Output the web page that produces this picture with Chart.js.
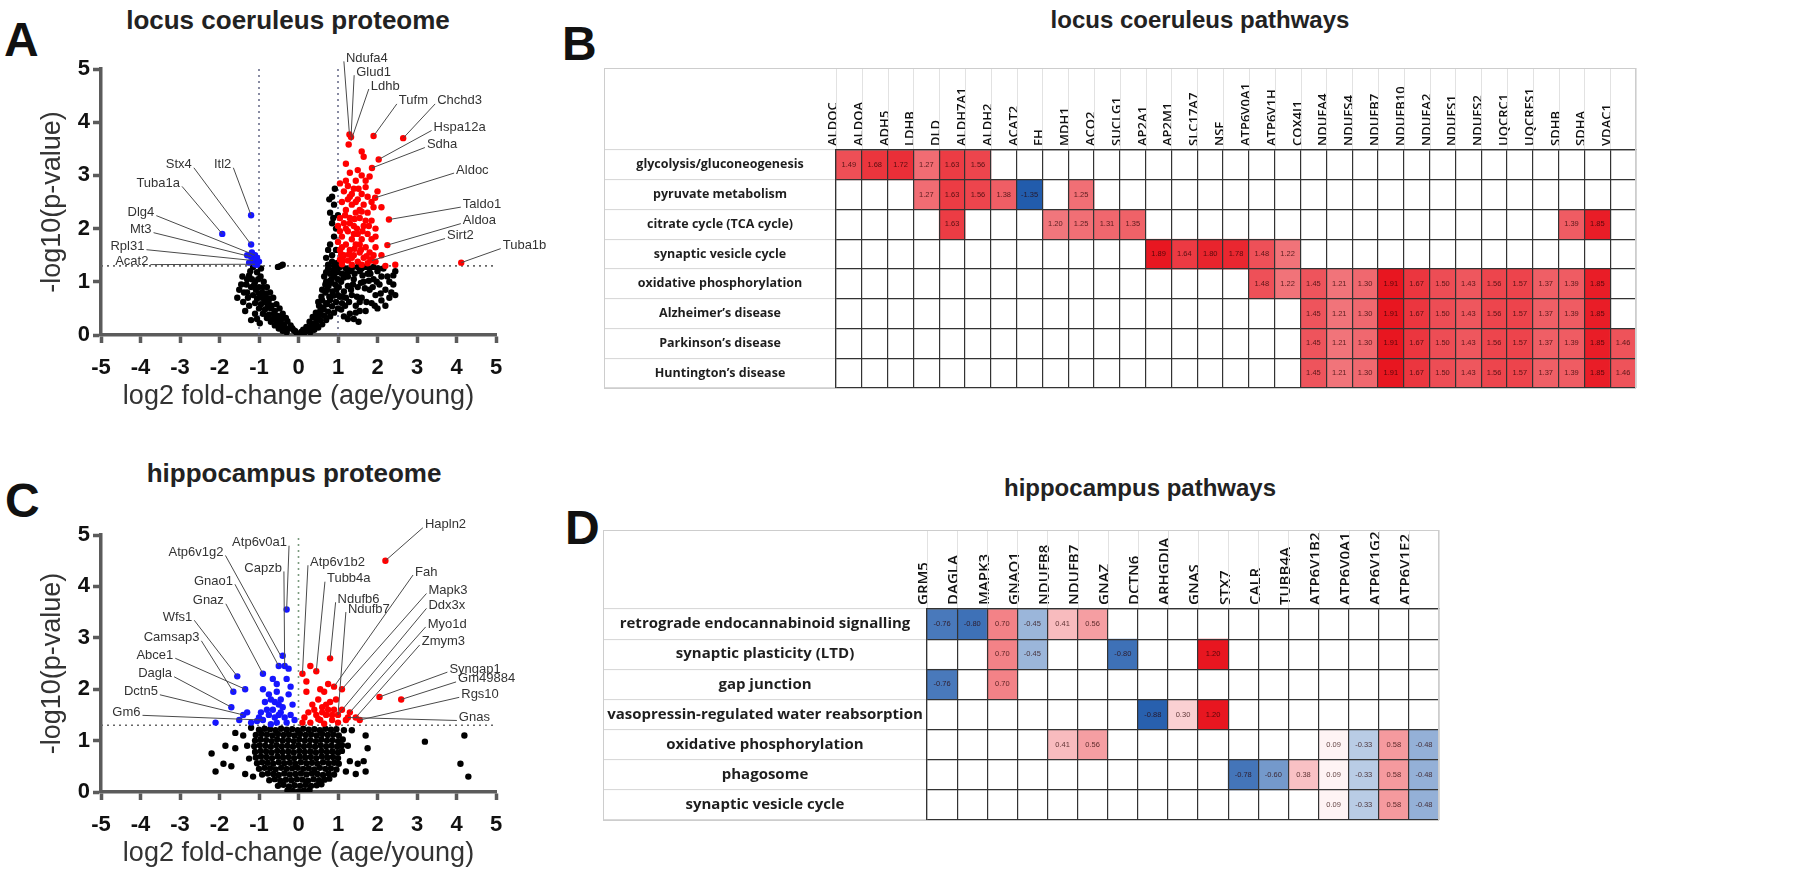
<!DOCTYPE html>
<html>
<head>
<meta charset="utf-8">
<script src="https://cdn.jsdelivr.net/npm/chart.js@4.4.1/dist/chart.umd.min.js"></script>
<style>
  body { margin: 0; width: 1800px; height: 884px; overflow: hidden; background: #fff; }
  .plot { position: absolute; }
  .letter { position: absolute; font: bold 48px "Liberation Sans", Arial, sans-serif; line-height: 1; color: #111; }
  .title { position: absolute; font: bold 24px "Liberation Sans", Arial, sans-serif; line-height: 28px; color: #222; transform: translateX(-50%); white-space: nowrap; }
  .big { font-size: 26px; line-height: 30px; }
</style>
</head>
<body>
<div class="letter" style="left:4px;top:16px">A</div>
<div class="title big" style="left:288px;top:5px">locus coeruleus proteome</div>
<div class="plot" style="left:0;top:28px;width:560px;height:407px"><canvas id="lcVolcano"></canvas></div>

<div class="letter" style="left:562px;top:20px">B</div>
<div class="title" style="left:1200px;top:6px">locus coeruleus pathways</div>
<div class="plot" style="left:560px;top:40px;width:1240px;height:370px"><canvas id="lcPathways"></canvas></div>

<div class="letter" style="left:5px;top:477px">C</div>
<div class="title big" style="left:294px;top:458px">hippocampus proteome</div>
<div class="plot" style="left:0;top:493px;width:560px;height:399px"><canvas id="hcVolcano"></canvas></div>

<div class="letter" style="left:565px;top:504px">D</div>
<div class="title" style="left:1140px;top:474px">hippocampus pathways</div>
<div class="plot" style="left:560px;top:500px;width:940px;height:340px"><canvas id="hcPathways"></canvas></div>

<script>
// ---- locus coeruleus volcano: [log2 fold-change, -log10 p] ----
const lcUp = [
  [1.29,3.77],[1.33,3.72],[1.27,3.58],[1.9,3.74],[2.65,3.7],[2.03,3.3],[1.86,3.14],[1.94,2.58],
  [2.29,2.17],[2.25,1.69],[1.86,1.4],[4.12,1.36],[1.6,3.45],[1.65,3.35],[1.2,3.22],[1.5,3.1],
  [1.6,3.0],[1.8,2.98],[1.2,2.9],[1.7,2.9],[1.05,2.85],[1.25,2.8],[1.4,2.75],[1.3,2.6],[1.5,2.55],
  [1.1,2.5],[1.35,2.45],[1.65,2.45],[1.9,2.4],[2.1,2.4],[1.2,2.35],[1.45,2.3],[1.75,2.3],[1.05,2.2],
  [1.3,2.2],[1.55,2.2],[1.85,2.15],[1.15,2.1],[1.4,2.05],[1.65,2.05],[1.95,2.0],[1.05,1.95],
  [1.25,1.95],[1.5,1.9],[1.75,1.9],[1.1,1.85],[1.35,1.8],[1.6,1.8],[1.85,1.8],[1.2,1.7],[1.45,1.7],
  [1.7,1.65],[1.95,1.65],[1.05,1.6],[1.3,1.6],[1.55,1.55],[1.8,1.55],[1.15,1.5],[1.4,1.5],
  [1.65,1.45],[1.9,1.5],[1.05,1.42],[1.25,1.4],[1.5,1.38],[1.75,1.35],[1.95,1.38],[1.1,1.33],
  [1.35,1.32],[1.6,1.32],[2.2,1.3],[2.45,1.32],[1.0,1.75],[1.0,2.05],[1.2,2.0],[1.45,2.5],
  [1.6,2.65],[1.35,1.45],[1.55,1.7],[1.7,2.15],[1.1,1.65],[1.4,1.9],[1.25,2.55],[1.55,2.35],
  [1.15,2.7],[1.75,2.6],[1.45,2.9],[1.3,3.05],
  [1.12,1.4],[1.28,1.52],[1.42,1.62],[1.58,1.6],[1.72,1.48],[1.82,1.42],[1.48,2.0],[1.62,1.95],
  [1.78,2.05],[1.3,2.1],[1.18,2.25],[1.42,2.18],[1.6,2.32],[1.85,2.5],[1.35,2.65],[1.52,2.75],
  [1.7,2.78],[2.0,2.7],[1.08,1.52],[1.95,1.85],[2.1,1.5]
];
const lcDown = [
  [-1.2,2.25],[-1.2,1.7],[-1.93,1.9],[-1.1,1.5],[-1.2,1.47],[-1.15,1.4],[-1.05,1.45],[-1.25,1.36],
  [-1.1,1.33],[-1.3,1.5],[-1.0,1.38],[-1.18,1.55],[-1.05,1.32]
];
const lcNs = [
  [0,0.01],[0.04,0.03],[-0.04,0.03],[0.08,0.06],[-0.08,0.07],[0.12,0.1],[-0.12,0.09],[0.16,0.05],
  [-0.16,0.13],[0.2,0.15],[-0.2,0.18],[0.24,0.08],[-0.24,0.12],[0.28,0.25],[-0.28,0.26],[0.32,0.16],
  [-0.32,0.32],[0.36,0.34],[-0.36,0.2],[0.4,0.22],[-0.4,0.4],[0.44,0.42],[-0.44,0.3],[0.48,0.3],
  [-0.48,0.5],[0.52,0.55],[-0.52,0.36],[0.56,0.38],[-0.56,0.58],[0.6,0.65],[-0.6,0.45],[0.64,0.48],
  [-0.64,0.7],[0.68,0.8],[-0.68,0.55],[0.72,0.58],[-0.72,0.8],[0.76,0.92],[-0.76,0.62],[0.8,0.66],
  [-0.8,0.9],[0.84,1.05],[-0.84,0.72],[0.88,0.74],[-0.88,1.0],[0.92,1.2],[-0.92,0.8],[0.96,0.85],
  [-0.96,1.1],[1.0,1.25],[-1.0,0.9],
  [0.3,0.05],[0.4,0.1],[0.5,0.14],[0.6,0.2],[0.7,0.28],[0.8,0.35],[0.9,0.42],[1.0,0.5],[1.1,0.6],
  [1.2,0.7],[0.45,0.2],[0.55,0.28],[0.65,0.36],[0.75,0.44],[0.85,0.54],[0.95,0.62],[1.05,0.72],
  [1.15,0.82],[1.25,0.92],[0.7,1.0],[0.8,1.15],[0.9,1.3],[1.0,1.05],[1.1,1.15],[1.2,1.25],[0.65,1.1],
  [0.75,1.25],
  [-0.3,0.05],[-0.4,0.08],[-0.5,0.12],[-0.6,0.18],[-0.7,0.25],[-0.8,0.32],[-0.9,0.4],[-1.0,0.5],
  [-1.1,0.6],[-0.45,0.15],[-0.55,0.22],[-0.65,0.3],[-0.75,0.38],[-0.85,0.48],[-0.95,0.58],
  [-1.05,0.68],[-1.15,0.75],[-1.2,0.9],[-1.25,0.55],[-1.3,0.8],[-1.35,0.45],[-1.4,0.62],[-1.1,1.0],
  [-1.25,1.12],[-1.05,1.18],[-0.95,1.25],[-1.15,1.28],[-1.45,0.95],[-1.3,1.05],[-1.2,0.28],
  [-0.45,1.3],[-0.52,1.28],[-0.4,1.32],
  [0.85,1.5],[0.8,1.7],[0.9,1.85],[0.75,1.6],[0.95,2.0],[0.85,2.1],[0.8,2.3],[0.9,2.45],[0.85,2.6],
  [0.92,2.75],[0.78,2.55],[1.0,2.25],[0.7,1.45],[0.95,1.6],[0.88,2.2],
  [1.3,0.4],[1.35,0.75],[1.4,1.05],[1.45,0.55],[1.5,0.9],[1.55,1.2],[1.6,0.7],[1.65,1.0],[1.7,0.45],
  [1.75,1.15],[1.8,0.85],[1.85,0.6],[1.9,1.05],[1.95,0.75],[2.0,1.2],[2.05,0.95],[2.1,0.65],
  [2.15,1.25],[2.2,0.85],[2.25,1.1],[2.3,1.0],[2.35,0.8],[2.4,0.95],[2.45,1.2],[2.2,0.55],[2.3,0.7],
  [1.4,0.3],[1.55,0.45],[1.25,1.1],[1.35,1.25],[1.5,1.28],[1.6,1.25],[1.7,1.28],[1.8,1.25],
  [1.9,1.28],[2.1,1.1],[2.0,0.5],[2.4,1.12],[2.45,0.75],
  [0.35,0.12],[0.45,0.32],[0.55,0.45],[0.62,0.52],[0.7,0.6],[0.78,0.72],[0.86,0.82],[0.93,0.95],
  [1.02,0.9],[1.08,1.0],[1.15,1.08],[1.22,1.15],[1.3,1.2],[0.6,0.85],[0.68,0.95],[0.82,0.98],
  [0.9,1.1],[0.98,1.18],[1.05,1.28],[1.12,0.72],[1.18,0.55],[1.28,0.62],[1.33,0.85],[1.38,0.95],
  [1.42,1.15],[1.48,0.72],[1.55,0.62],[1.58,0.98],[1.62,1.12],[1.68,0.88],[1.72,0.62],[1.78,1.02],
  [1.82,1.15],[1.88,0.9],[1.93,0.55],[1.98,1.0],[2.02,1.25],[2.08,0.78],[1.45,0.42],[1.52,0.25],
  [0.5,0.62],[0.58,0.72],[0.72,0.85],[0.8,1.02],[0.88,1.22],[0.96,1.35],[0.85,1.38],[0.75,1.32],
  [0.7,1.18],[1.0,0.75],[1.08,0.48],[1.15,0.35],[1.25,0.3],
  [-0.35,0.12],[-0.45,0.25],[-0.55,0.32],[-0.62,0.4],[-0.7,0.5],[-0.78,0.55],[-0.86,0.62],
  [-0.93,0.7],[-1.0,0.78],[-1.08,0.85],[-1.12,0.95],[-1.18,1.05],[-1.22,1.2],[-1.02,1.05],
  [-0.9,0.9],[-0.82,0.78],[-0.74,0.68],[-1.1,0.4],[-1.28,0.7],[-1.32,0.95],[-1.38,0.8],[-1.42,1.1],
  [-1.5,0.85],[-1.55,0.7],[-1.05,0.3],[-0.98,0.22]
];
// gene, point x, point y, label x, label y (labels right of zero start at x, left of zero end at x)
const lcGeneLabels = [
  ['Ndufa4',1.29,3.77,1.2,5.2],['Glud1',1.33,3.72,1.46,4.94],['Ldhb',1.33,3.65,1.83,4.68],
  ['Tufm',1.9,3.74,2.54,4.4],['Chchd3',2.65,3.7,3.51,4.4],['Hspa12a',2.03,3.3,3.42,3.9],
  ['Sdha',1.86,3.14,3.25,3.58],['Aldoc',1.94,2.58,3.99,3.1],['Taldo1',2.29,2.17,4.16,2.46],
  ['Aldoa',2.25,1.69,4.16,2.15],['Sirt2',1.86,1.4,3.76,1.87],['Tuba1b',4.12,1.36,5.17,1.68],
  ['Stx4',-1.2,1.7,-2.7,3.2],['Itl2',-1.2,2.25,-1.7,3.2],['Tuba1a',-1.93,1.9,-3.0,2.85],
  ['Dlg4',-1.1,1.5,-3.65,2.3],['Mt3',-1.2,1.47,-3.72,1.98],['Rpl31',-1.15,1.4,-3.9,1.66],
  ['Acat2',-1.1,1.33,-3.8,1.38]
];
const lcCutX = [-1, 1];

// ---- hippocampus volcano ----
const hcUp = [
  [2.2,4.5],[2.05,1.85],[2.6,1.8],[0.8,2.6],[0.3,2.45],[0.45,2.35],[0.1,2.3],[0.2,2.15],[0.9,2.05],
  [0.75,2.1],[1.1,2.0],[0.65,1.95],[0.5,1.8],[0.8,1.75],[0.35,1.7],[0.6,1.65],[0.9,1.6],[0.25,1.55],
  [0.45,1.5],[0.7,1.5],[1.0,1.5],[1.3,1.55],[1.45,1.45],[0.15,1.45],[0.55,1.4],[0.85,1.4],[1.2,1.4],
  [0.3,1.35],[0.65,1.33],[1.0,1.35],[0.4,1.6],[0.75,1.6],[0.2,1.95],[0.55,2.0],[0.95,1.8],
  [1.25,1.45],[1.55,1.4],[0.1,1.35],[0.6,1.55],[0.85,1.5],[0.7,1.7],[1.1,1.6],[0.5,1.42]
];
const hcDown = [
  [-0.3,3.55],[-0.4,2.65],[-0.35,2.45],[-0.5,2.45],[-0.25,2.4],[-0.9,2.3],[-1.55,2.25],[-0.3,2.2],
  [-0.2,2.05],[-1.65,1.95],[-1.35,2.0],[-0.9,2.0],[-0.55,1.95],[-1.7,1.65],[-0.7,1.8],[-0.6,1.75],
  [-0.5,1.7],[-0.8,1.6],[-0.45,1.55],[-1.4,1.5],[-1.3,1.55],[-0.95,1.55],[-0.75,1.5],[-0.6,1.45],
  [-0.35,1.45],[-0.2,1.5],[-2.1,1.35],[-0.9,1.4],[-0.55,1.35],[-0.3,1.35],[-0.7,1.32],[-1.05,1.38],
  [-0.45,1.8],[-0.65,1.6],[-0.85,1.75],[-0.15,1.7],[-0.25,1.9],[-1.0,1.45],[-0.4,1.65],[-0.75,1.9],
  [-0.55,2.1],[-0.1,1.4],[-1.2,1.35],[-1.5,1.4],[-0.65,2.2],[-0.5,1.5]
];
const hcNs = [
  [-0.28,0.03],[-0.14,0.02],[0,0.01],[0.14,0.03],[0.28,0.04],
  [-0.52,0.12],[-0.38,0.14],[-0.24,0.11],[-0.1,0.13],[0.04,0.12],[0.18,0.14],[0.32,0.12],[0.46,0.13],[0.58,0.15],
  [-0.74,0.23],[-0.6,0.25],[-0.46,0.22],[-0.32,0.24],[-0.18,0.23],[-0.04,0.25],[0.1,0.24],[0.24,0.22],
  [0.38,0.25],[0.52,0.23],[0.66,0.24],[0.78,0.26],
  [-0.92,0.34],[-0.78,0.36],[-0.64,0.35],[-0.5,0.33],[-0.36,0.36],[-0.22,0.34],[-0.08,0.35],[0.06,0.36],
  [0.2,0.34],[0.34,0.36],[0.48,0.35],[0.62,0.33],[0.76,0.36],[0.9,0.34],
  [-1.0,0.45],[-0.86,0.47],[-0.72,0.46],[-0.58,0.44],[-0.44,0.47],[-0.3,0.45],[-0.16,0.46],[-0.02,0.47],
  [0.12,0.45],[0.26,0.46],[0.4,0.44],[0.54,0.47],[0.68,0.45],[0.82,0.46],[0.96,0.44],
  [-1.05,0.56],[-0.92,0.58],[-0.78,0.57],[-0.64,0.55],[-0.5,0.58],[-0.36,0.56],[-0.22,0.57],[-0.08,0.55],
  [0.06,0.58],[0.2,0.56],[0.34,0.57],[0.48,0.55],[0.62,0.58],[0.76,0.56],[0.9,0.57],[1.02,0.55],
  [-1.08,0.67],[-0.95,0.69],[-0.81,0.68],[-0.67,0.66],[-0.53,0.69],[-0.39,0.67],[-0.25,0.68],[-0.11,0.66],
  [0.03,0.69],[0.17,0.67],[0.31,0.68],[0.45,0.66],[0.59,0.69],[0.73,0.67],[0.87,0.68],[1.0,0.66],
  [-1.1,0.78],[-0.96,0.8],[-0.82,0.79],[-0.68,0.77],[-0.54,0.8],[-0.4,0.78],[-0.26,0.79],[-0.12,0.77],
  [0.02,0.8],[0.16,0.78],[0.3,0.79],[0.44,0.77],[0.58,0.8],[0.72,0.78],[0.86,0.79],[1.0,0.77],[1.1,0.8],
  [-1.12,0.89],[-0.98,0.91],[-0.84,0.9],[-0.7,0.88],[-0.56,0.91],[-0.42,0.89],[-0.28,0.9],[-0.14,0.88],
  [0,0.91],[0.14,0.89],[0.28,0.9],[0.42,0.88],[0.56,0.91],[0.7,0.89],[0.84,0.9],[0.98,0.88],[1.1,0.91],
  [-1.1,1.0],[-0.96,1.02],[-0.82,1.01],[-0.68,0.99],[-0.54,1.02],[-0.4,1.0],[-0.26,1.01],[-0.12,0.99],
  [0.02,1.02],[0.16,1.0],[0.3,1.01],[0.44,0.99],[0.58,1.02],[0.72,1.0],[0.86,1.01],[1.0,0.99],[1.12,1.02],
  [-1.08,1.11],[-0.94,1.13],[-0.8,1.12],[-0.66,1.1],[-0.52,1.13],[-0.38,1.11],[-0.24,1.12],[-0.1,1.1],
  [0.04,1.13],[0.18,1.11],[0.32,1.12],[0.46,1.1],[0.6,1.13],[0.74,1.11],[0.88,1.12],[1.02,1.1],
  [-1.0,1.21],[-0.86,1.23],[-0.72,1.22],[-0.58,1.2],[-0.44,1.23],[-0.3,1.21],[-0.16,1.22],[-0.02,1.2],
  [0.12,1.23],[0.26,1.21],[0.4,1.22],[0.54,1.2],[0.68,1.23],[0.82,1.21],[0.96,1.22],
  [-2.2,0.75],[-2.1,0.4],[-1.9,0.55],[-1.7,0.5],[-1.85,0.9],[-1.6,1.15],[-1.6,0.85],[-1.35,0.35],
  [-1.3,0.9],[-1.25,0.65],[-1.4,1.1],[-1.2,1.25],[1.25,0.9],[1.3,0.6],[1.45,0.35],[1.5,0.55],
  [1.7,0.4],[1.65,0.6],[1.75,0.85],[1.7,1.1],[1.35,1.2],[1.2,0.4],[3.2,0.98],[4.1,0.55],[4.3,0.3],
  [4.2,1.1],[-1.15,0.3],[1.15,1.2]
];
const hcGeneLabels = [
  ['Atp6v1g2',-0.45,2.65,-1.9,4.66],['Atp6v0a1',-0.3,3.55,-0.29,4.85],['Capzb',-0.35,2.45,-0.42,4.35],
  ['Gnao1',-0.5,2.45,-1.66,4.1],['Gnaz',-0.9,2.3,-1.89,3.72],['Wfs1',-1.55,2.25,-2.69,3.4],
  ['Camsap3',-1.65,1.95,-2.51,3.0],['Abce1',-1.35,2.0,-3.17,2.66],['Dagla',-1.7,1.65,-3.2,2.3],
  ['Dctn5',-1.4,1.5,-3.56,1.95],['Gm6',-0.9,1.4,-4.0,1.55],
  ['Hapln2',2.2,4.5,3.2,5.2],['Atp6v1b2',0.1,2.3,0.29,4.47],['Tubb4a',0.45,2.35,0.72,4.15],
  ['Ndufb6',0.8,2.6,0.99,3.75],['Ndufb7',1.0,1.5,1.25,3.56],['Fah',0.9,2.05,2.95,4.28],
  ['Mapk3',1.1,2.0,3.29,3.92],['Ddx3x',1.0,1.5,3.29,3.63],['Myo1d',1.3,1.55,3.27,3.27],
  ['Zmym3',1.45,1.45,3.12,2.92],['Syngap1',2.05,1.85,3.82,2.39],['Gm49884',2.6,1.8,4.04,2.2],
  ['Rgs10',1.55,1.4,4.12,1.9],['Gnas',1.25,1.45,4.06,1.45]
];
const hcCutX = [0];
const pCut = 1.3;

// ---- locus coeruleus pathways ----
const lcGenes = ['ALDOC','ALDOA','ADH5','LDHB','DLD','ALDH7A1','ALDH2','ACAT2','FH','MDH1','ACO2',
  'SUCLG1','AP2A1','AP2M1','SLC17A7','NSF','ATP6V0A1','ATP6V1H','COX4I1','NDUFA4','NDUFS4','NDUFB7',
  'NDUFB10','NDUFA2','NDUFS1','NDUFS2','UQCRC1','UQCRFS1','SDHB','SDHA','VDAC1'];
const lcFold = [1.49,1.68,1.72,1.27,1.63,1.56,1.38,-1.35,1.2,1.25,1.31,1.35,1.89,1.64,1.8,1.78,1.48,
  1.22,1.45,1.21,1.3,1.91,1.67,1.5,1.43,1.56,1.57,1.37,1.39,1.85,1.46];
const lcPathwayNames = ['glycolysis/gluconeogenesis','pyruvate metabolism','citrate cycle (TCA cycle)',
  'synaptic vesicle cycle','oxidative phosphorylation','Alzheimer\u2019s disease','Parkinson\u2019s disease',
  'Huntington\u2019s disease'];
const lcMembers = [
  [0,1,2,3,4,5],
  [3,4,5,6,7,9],
  [4,8,9,10,11,28,29],
  [12,13,14,15,16,17],
  [16,17,18,19,20,21,22,23,24,25,26,27,28,29],
  [18,19,20,21,22,23,24,25,26,27,28,29],
  [18,19,20,21,22,23,24,25,26,27,28,29,30],
  [18,19,20,21,22,23,24,25,26,27,28,29,30]
];

// ---- hippocampus pathways ----
const hcGenes = ['GRM5','DAGLA','MAPK3','GNAO1','NDUFB8','NDUFB7','GNAZ','DCTN6','ARHGDIA','GNAS',
  'STX7','CALR','TUBB4A','ATP6V1B2','ATP6V0A1','ATP6V1G2','ATP6V1E2'];
const hcFold = [-0.76,-0.8,0.7,-0.45,0.41,0.56,-0.8,-0.88,0.3,1.2,-0.78,-0.6,0.38,0.09,-0.33,0.58,-0.48];
const hcPathwayNames = ['retrograde endocannabinoid signalling','synaptic plasticity (LTD)','gap junction',
  'vasopressin-regulated water reabsorption','oxidative phosphorylation','phagosome','synaptic vesicle cycle'];
const hcMembers = [
  [0,1,2,3,4,5],
  [2,3,6,9],
  [0,2],
  [7,8,9],
  [4,5,13,14,15,16],
  [10,11,12,13,14,15,16],
  [13,14,15,16]
];

const SANS = '"Liberation Sans", Arial, sans-serif';
const TABLE_FONT = '"Open Sans", "Liberation Sans", sans-serif';
const AXIS = '#5b5b5b';

const geneLabels = {
  id: 'geneLabels',
  afterDatasetsDraw(chart, args, opts) {
    const { ctx, scales: { x, y } } = chart;
    ctx.save();
    ctx.font = '13px ' + SANS;
    ctx.textBaseline = 'middle';
    ctx.strokeStyle = '#4a4a4a';
    ctx.fillStyle = '#333';
    ctx.lineWidth = 1;
    for (const [name, px, py, lx, ly] of opts.items) {
      const x0 = x.getPixelForValue(px), y0 = y.getPixelForValue(py);
      const x1 = x.getPixelForValue(lx), y1 = y.getPixelForValue(ly);
      const right = lx > 0;
      ctx.beginPath();
      ctx.moveTo(x0, y0);
      ctx.lineTo(x1 + (right ? -2 : 2), y1 + 3);
      ctx.stroke();
      ctx.textAlign = right ? 'left' : 'right';
      ctx.fillText(name, x1, y1);
    }
    ctx.restore();
  }
};

function volcano(id, up, down, ns, items, cutX, cutColor, top) {
  const dots = (list, color) => ({
    data: list.map(([x, y]) => ({ x, y })),
    backgroundColor: color, borderWidth: 0, pointRadius: 3.2, pointHoverRadius: 3.2
  });
  const dashed = (data, color) => ({
    data, showLine: true, pointRadius: 0, borderColor: color, borderWidth: 1.6, borderDash: [2, 4]
  });
  const tickFont = { family: SANS, size: 22, weight: 'bold' };
  const titleFont = { family: SANS, size: 27 };
  new Chart(document.getElementById(id), {
    type: 'scatter',
    data: {
      datasets: [
        dots(up, '#ff0000'),
        dots(down, '#1616ff'),
        dots(ns, '#000000'),
        ...cutX.map(v => dashed([{ x: v, y: 0 }, { x: v, y: 5 }], cutColor)),
        dashed([{ x: -5, y: pCut }, { x: 5, y: pCut }], '#666')
      ]
    },
    plugins: [geneLabels],
    options: {
      responsive: true, maintainAspectRatio: false, animation: false,
      layout: { padding: { left: 0, right: 64, top: top, bottom: 0 } },
      plugins: { legend: { display: false }, tooltip: { enabled: false }, geneLabels: { items } },
      scales: {
        x: {
          type: 'linear', min: -5, max: 5,
          afterFit: s => { s.height = 100; },
          ticks: { stepSize: 1, padding: 12, maxRotation: 0, color: '#111', font: tickFont },
          grid: { drawOnChartArea: false, tickLength: 8, tickWidth: 3.5, tickColor: AXIS },
          border: { color: AXIS, width: 3.5 },
          title: { display: true, text: 'log2 fold-change (age/young)', color: '#333', font: titleFont, padding: { top: 0, bottom: 22 } }
        },
        y: {
          min: 0, max: 5,
          afterFit: s => { s.width = 101; },
          ticks: { stepSize: 1, padding: 3, color: '#111', font: tickFont },
          grid: { drawOnChartArea: false, tickLength: 8, tickWidth: 3.5, tickColor: AXIS },
          border: { color: AXIS, width: 3.5 },
          title: { display: true, text: '-log10(p-value)', color: '#333', font: titleFont, padding: { top: 36, bottom: 0 } }
        }
      }
    }
  });
}

function cellColor(v, redMax, blueMax) {
  const base = v >= 0 ? [232, 22, 32] : [34, 92, 172];
  const t = Math.pow(Math.min(1, Math.abs(v) / (v >= 0 ? redMax : blueMax)), 1.15);
  return 'rgb(' + base.map(c => Math.round(255 + (c - 255) * t)).join(',') + ')';
}

const tableDecor = {
  id: 'tableDecor',
  beforeDatasetsDraw(chart) {
    const { ctx, scales: { x }, chartArea } = chart;
    const n = chart.data.labels.length;
    const w = (x.right - x.left) / n;
    ctx.save();
    ctx.strokeStyle = '#e2e2e2';
    ctx.lineWidth = 1;
    for (let i = 0; i <= n; i++) {
      const px = Math.round(x.left + i * w) + 0.5;
      ctx.beginPath(); ctx.moveTo(px, x.top); ctx.lineTo(px, chartArea.top); ctx.stroke();
    }
    ctx.restore();
  },
  afterDatasetsDraw(chart, args, opts) {
    const { ctx } = chart;
    ctx.save();
    ctx.font = opts.valueSize + 'px ' + SANS;
    ctx.textAlign = 'center';
    ctx.textBaseline = 'middle';
    ctx.fillStyle = 'rgba(40,0,0,0.75)';
    chart.data.datasets.forEach((ds, di) => {
      chart.getDatasetMeta(di).data.forEach((bar, i) => {
        if (!ds.data[i]) return;
        ctx.fillText(opts.values[i].toFixed(2), bar.x, (bar.y + bar.base) / 2);
      });
    });
    ctx.restore();
  },
  afterDraw(chart, args, opts) {
    const { ctx, scales: { x, y }, chartArea } = chart;
    ctx.save();
    ctx.strokeStyle = '#cdcdcd';
    ctx.lineWidth = 1;
    ctx.strokeRect(y.left + 0.5, x.top + 0.5, chartArea.right - y.left - 1, chartArea.bottom - x.top);
    ctx.font = 'bold ' + opts.labelSize + 'px ' + TABLE_FONT;
    ctx.fillStyle = '#1e1e1e';
    ctx.textAlign = 'center';
    ctx.textBaseline = 'middle';
    opts.rows.forEach((name, i) => ctx.fillText(name, (y.left + y.right) / 2, y.getPixelForValue(i + 0.5)));
    ctx.restore();
  }
};

function heatmap(id, genes, fold, rows, members, redMax, blueMax, pad, labelW, headerH, labelSize, geneSize) {
  const colors = fold.map(v => cellColor(v, redMax, blueMax));
  const datasets = members.map((cols, r) => ({
    data: genes.map((g, i) => cols.includes(i) ? [r, r + 1] : null),
    backgroundColor: colors,
    borderWidth: 0
  }));
  new Chart(document.getElementById(id), {
    type: 'bar',
    data: { labels: genes, datasets },
    plugins: [tableDecor],
    options: {
      responsive: true, maintainAspectRatio: false, animation: false,
      layout: { padding: pad },
      datasets: { bar: { grouped: false, barPercentage: 1, categoryPercentage: 1 } },
      plugins: {
        legend: { display: false }, tooltip: { enabled: false },
        tableDecor: { rows, values: fold, labelSize, valueSize: 7.5 }
      },
      scales: {
        x: {
          position: 'top', z: 1,
          afterFit: s => { s.height = headerH; },
          ticks: { autoSkip: false, minRotation: 90, maxRotation: 90, padding: 4, color: '#111',
            font: { family: TABLE_FONT, size: geneSize, weight: '600' } },
          grid: { color: '#333', lineWidth: 1.2, drawTicks: false, z: 1 },
          border: { color: '#333', width: 1.2, z: 1 }
        },
        y: {
          min: 0, max: rows.length, reverse: true, z: 1,
          afterBuildTicks: s => { s.ticks = rows.map((r, i) => ({ value: i })).concat({ value: rows.length }); },
          afterFit: s => { s.width = labelW; },
          ticks: { display: false },
          grid: { color: '#333', lineWidth: 1.2, tickLength: labelW, tickColor: '#d6d6d6', tickWidth: 1, z: 1 },
          border: { color: '#333', width: 1.2, z: 1 }
        }
      }
    }
  });
}

volcano('lcVolcano', lcUp, lcDown, lcNs, lcGeneLabels, lcCutX, '#6b6f8c', 41);
volcano('hcVolcano', hcUp, hcDown, hcNs, hcGeneLabels, hcCutX, '#7b9a7e', 42);
heatmap('lcPathways', lcGenes, lcFold, lcPathwayNames, lcMembers, 1.9, 1.3,
  { left: 44, right: 164, top: 28, bottom: 22 }, 232, 82, 12.5, 13);
heatmap('hcPathways', hcGenes, hcFold, hcPathwayNames, hcMembers, 1.2, 0.9,
  { left: 43, right: 61, top: 30, bottom: 20 }, 324, 79, 15, 15);
</script>
</body>
</html>
